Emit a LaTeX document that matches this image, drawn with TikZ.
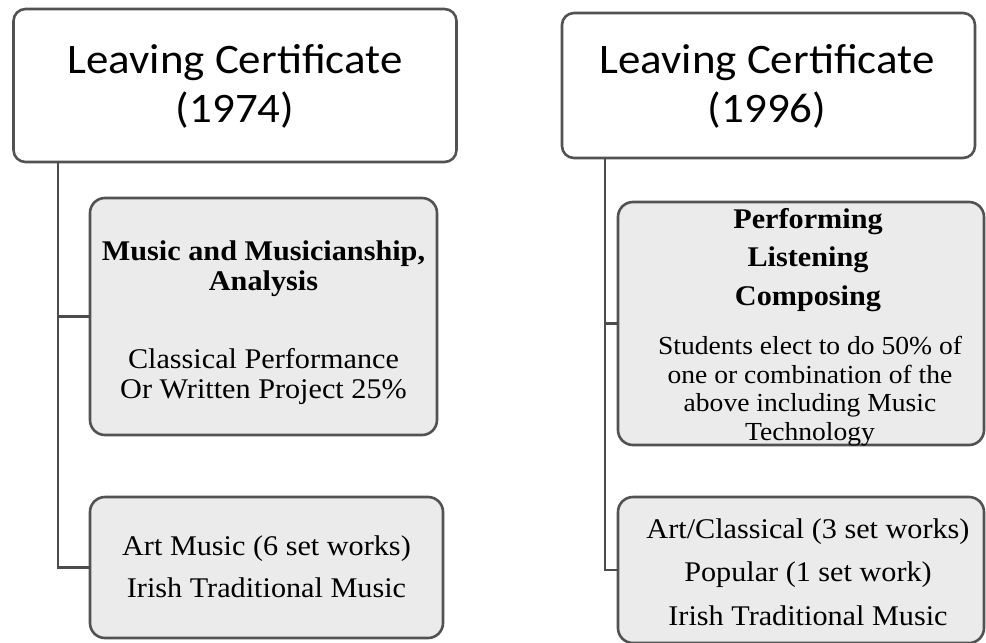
\documentclass[tikz,border=0pt]{standalone}
\usepackage{fontspec}
\setmainfont{Liberation Serif}
\newfontfamily\titlefont{Carlito}
\begin{document}
\begin{tikzpicture}[x=1pt,y=-1pt,
  edge/.style={draw=black!68,line width=2.6pt},
  topbox/.style={edge,fill=white,rounded corners=12pt,inner sep=0pt,outer sep=0pt},
  subbox/.style={edge,fill=black!8,rounded corners=15pt,inner sep=0pt,outer sep=0pt},
  conn/.style={draw=black!70,line width=2.8pt},
  titletext/.style={font=\titlefont\fontsize{42}{49}\selectfont,align=center,inner sep=0pt,anchor=base,xscale=1.07,transform shape},
  bodytext/.style={align=center,inner sep=0pt,anchor=base,xscale=1.06,transform shape}]
\useasboundingbox (0,0) rectangle (986,643);

% --- 1974 column ---
\node[topbox,minimum width=443,minimum height=153] (t1) at (235,85.5) {};
\node[subbox,minimum width=347,minimum height=237] (m1) at (263.5,316.5) {};
\node[subbox,minimum width=353,minimum height=141] (b1) at (266.5,567.5) {};
\node[titletext] (t1txt) at (235,122) {Leaving Certificate\\(1974)};
\node[bodytext,font=\bfseries\fontsize{28.5}{30}\selectfont] (m1a) at (263.5,290) {Music and Musicianship,\\Analysis};
\node[bodytext,font=\fontsize{28.5}{30}\selectfont] (m1b) at (263.5,398) {Classical Performance\\Or Written Project 25\%};
\node[bodytext,font=\fontsize{28.5}{42}\selectfont] (b1txt) at (266.5,597) {Art Music (6 set works)\\Irish Traditional Music};
\coordinate (s1) at (58,162);
\draw[conn] (s1) |- (m1.west);
\draw[conn] (s1) |- (b1.west);

% --- 1996 column ---
\node[topbox,minimum width=413,minimum height=145] (t2) at (768.5,85.5) {};
\node[subbox,minimum width=366,minimum height=243] (m2) at (801,323.5) {};
\node[subbox,minimum width=366,minimum height=146] (b2) at (801,570) {};
\node[titletext] (t2txt) at (767,122) {Leaving Certificate\\(1996)};
\node[bodytext,font=\bfseries\fontsize{28.5}{38.5}\selectfont] (m2a) at (808,305) {Performing\\Listening\\Composing};
\node[bodytext,font=\fontsize{26}{28.5}\selectfont] (m2b) at (810,440) {Students elect to do 50\% of\\one or combination of the\\above including Music\\Technology};
\node[bodytext,font=\fontsize{28.5}{43.5}\selectfont] (b2txt) at (808,625) {Art/Classical (3 set works)\\Popular (1 set work)\\Irish Traditional Music};
\coordinate (s2) at (605,158);
\draw[conn] (s2) |- (m2.west);
\draw[conn] (s2) |- (b2.west);
\end{tikzpicture}
\end{document}
